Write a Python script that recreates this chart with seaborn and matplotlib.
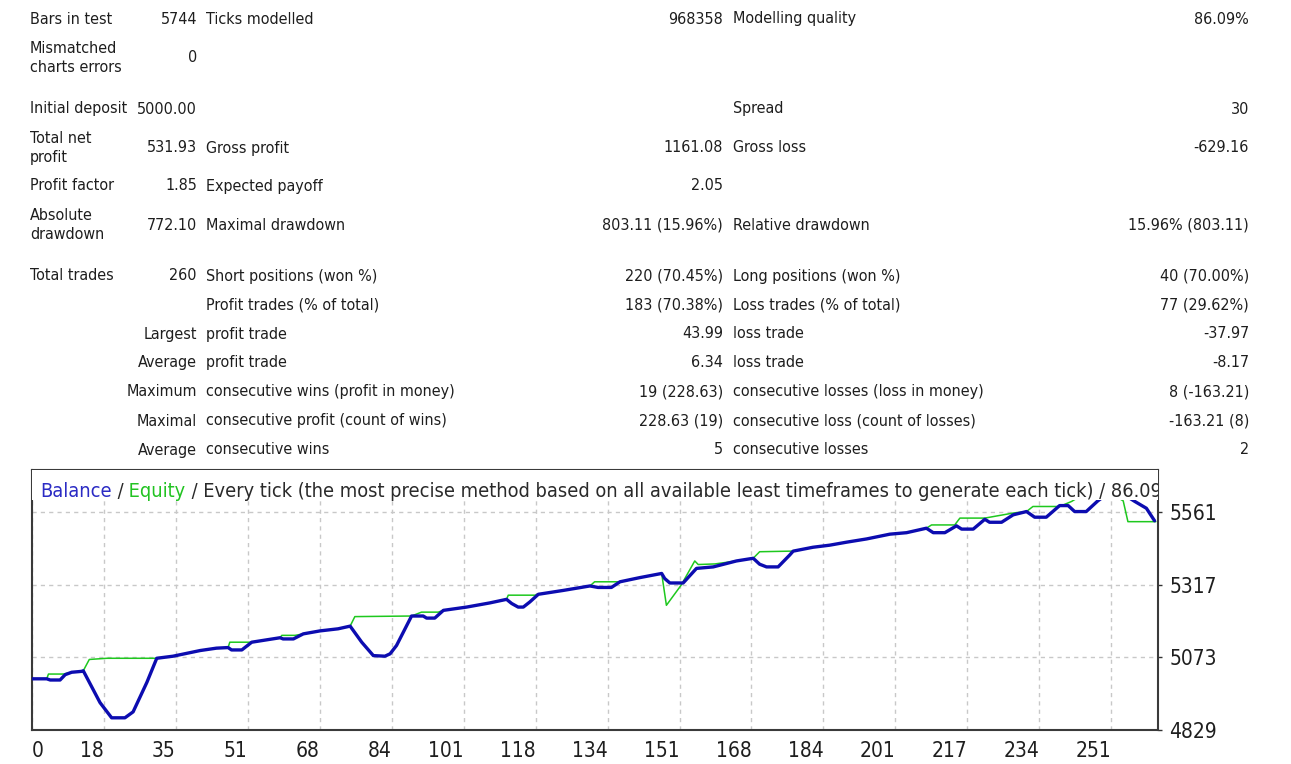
import numpy as np
import matplotlib
matplotlib.use("Agg")
import matplotlib.pyplot as plt
import seaborn as sns
import pandas as pd
from matplotlib.patches import Rectangle

# report table (13 rows, 3 label/value column pairs)
left_labels = ["Bars in test", "Mismatched\ncharts errors", "Initial deposit", "Total net\nprofit",
               "Profit factor", "Absolute\ndrawdown", "Total trades", "", "Largest", "Average",
               "Maximum", "Maximal", "Average"]
left_values = ["5744", "0", "5000.00", "531.93", "1.85", "772.10", "260", "", "", "", "", "", ""]
mid_labels = ["Ticks modelled", "", "", "Gross profit", "Expected payoff", "Maximal drawdown",
              "Short positions (won %)", "Profit trades (% of total)", "profit trade", "profit trade",
              "consecutive wins (profit in money)", "consecutive profit (count of wins)", "consecutive wins"]
mid_values = ["968358", "", "", "1161.08", "2.05", "803.11 (15.96%)", "220 (70.45%)", "183 (70.38%)",
              "43.99", "6.34", "19 (228.63)", "228.63 (19)", "5"]
right_labels = ["Modelling quality", "", "Spread", "Gross loss", "", "Relative drawdown",
                "Long positions (won %)", "Loss trades (% of total)", "loss trade", "loss trade",
                "consecutive losses (loss in money)", "consecutive loss (count of losses)", "consecutive losses"]
right_values = ["86.09%", "", "30", "-629.16", "", "15.96% (803.11)", "40 (70.00%)", "77 (29.62%)",
                "-37.97", "-8.17", "8 (-163.21)", "-163.21 (8)", "2"]

# balance / equity curves (trade number, account value)
bal_x = [0, 3.5, 4.3, 6.6, 7.8, 9.3, 11.6, 12.0, 15.9, 18.6, 21.7, 23.6, 26.8, 29.1, 32.9, 39.2,
         43.0, 45.7, 46.5, 48.9, 51.2, 54.7, 57.8, 58.5, 60.9, 63.2, 67.1, 71.3, 74.1, 76.8, 79.5,
         82.2, 83.4, 84.9, 88.4, 91.1, 91.9, 93.8, 95.8, 101.2, 106.6, 110.5, 111.7, 113.2, 114.4,
         115.9, 117.9, 123.7, 129.9, 131.8, 134.9, 136.9, 141.5, 146.6, 147.3, 148.5, 151.6, 154.7,
         158.6, 164.0, 167.9, 169.4, 171.0, 173.7, 176.4, 177.2, 181.8, 185.7, 189.6, 194.3, 199.7,
         203.6, 208.2, 209.8, 212.5, 215.2, 216.4, 219.1, 221.8, 222.9, 225.7, 228.4, 231.5, 233.4,
         236.1, 239.2, 241.2, 242.7, 245.4, 248.1, 252.0, 256.7, 259.4, 261.3]
bal_y = [5001, 5001, 4997, 4997, 5015, 5023, 5026, 5028, 4921, 4870, 4870, 4890, 4989, 5070, 5077, 5096,
         5104, 5106, 5098, 5098, 5124, 5132, 5139, 5135, 5135, 5152, 5162, 5169, 5178, 5124, 5079,
         5077, 5085, 5113, 5212, 5212, 5205, 5205, 5231, 5242, 5256, 5268, 5254, 5242, 5242,
         5259, 5285, 5298, 5313, 5308, 5308, 5327, 5341, 5355, 5338, 5323, 5323, 5372,
         5377, 5397, 5406, 5386, 5377, 5377, 5417, 5430, 5443, 5450, 5460, 5471, 5487,
         5492, 5507, 5492, 5492, 5515, 5504, 5504, 5537, 5527, 5527, 5552, 5563, 5544,
         5544, 5583, 5583, 5563, 5563, 5599, 5640, 5597, 5574, 5532]
eq_x = [0, 3.5, 3.9, 7.4, 9.3, 11.6, 12.0, 13.4, 17.5, 29.1, 32.9, 39.2, 43.0, 45.7, 46.1, 50.4,
        51.2, 54.7, 57.8, 58.2, 61.3, 63.2, 67.1, 71.3, 74.1, 75.2, 88.4, 90.7, 94.6, 95.8, 101.2,
        106.6, 110.5, 110.9, 117.1, 117.9, 123.7, 129.9, 131.0, 136.9, 141.5, 146.6, 147.7, 151.1,
        154.3, 155.1, 159.0, 164.0, 167.9, 169.4, 176.8, 177.2, 181.8, 185.7, 189.6, 194.3, 199.7,
        203.6, 208.2, 209.4, 214.8, 216.0, 221.8, 228.4, 231.5, 233.0, 239.2, 242.0, 248.0, 254.0,
        255.1, 261.6]
eq_y = [5001, 5001, 5017, 5017, 5023, 5026, 5028, 5066, 5070, 5070, 5077, 5096, 5104, 5106, 5124, 5124,
        5124, 5132, 5139, 5147, 5147, 5152, 5162, 5169, 5178, 5210, 5212, 5225, 5225, 5231, 5242,
        5256, 5268, 5282, 5282, 5285, 5298, 5313, 5327, 5327, 5341, 5355, 5248, 5315,
        5397, 5385, 5387, 5397, 5406, 5428, 5430, 5430, 5443, 5450, 5460, 5471, 5487,
        5492, 5507, 5518, 5518, 5541, 5541, 5558, 5563, 5580, 5580, 5597, 5650, 5599,
        5529, 5529]

x_tick_labels = ["0", "18", "35", "51", "68", "84", "101", "118", "134", "151", "168", "184",
                 "201", "217", "234", "251"]
y_ticks = [4829, 5073, 5317, 5561]

title_parts = [("Balance", "#2b2bc4"), (" /", "#2a2a2a"), (" Equity", "#22c322"),
               (" / Every tick (the most precise method based on all available least timeframes "
                "to generate each tick) / 86.09%", "#2a2a2a")]

sns.set_style("white")
plt.rcParams["font.family"] = ["DejaVu Sans"]
plt.rcParams["font.stretch"] = "condensed"

W, H = 1291, 764
fig = plt.figure(figsize=(W / 100, H / 100), dpi=100)
fig.patch.set_facecolor("white")


def fx(px):
    return px / W


def fy(py):
    return 1 - py / H


def cell(px, py, s, ha):
    # py is the visual centre of the row; draw each line on its own baseline
    lines = s.split("\n")
    n = len(lines)
    for k, line in enumerate(lines):
        base = py + 5.5 + (k - (n - 1) / 2) * 19
        fig.text(fx(px), fy(base), line, ha=ha, va="baseline", fontsize=11.5, color="#1e1e1e")


# table
row_y = [18, 57, 108, 147, 185, 224, 275, 304, 333, 362, 391, 420, 449]
for i, y in enumerate(row_y):
    cell(197 if i >= 8 else 30, y, left_labels[i], "right" if i >= 8 else "left")
    cell(197, y, left_values[i], "right")
    cell(206, y, mid_labels[i], "left")
    cell(723, y, mid_values[i], "right")
    cell(733, y, right_labels[i], "left")
    cell(1249, y, right_values[i], "right")

# chart
left, right, top, bottom = 31.7, 1158, 470, 730
ax = fig.add_axes([fx(left), fy(bottom), (right - left) / W, (bottom - top) / H])

df_eq = pd.DataFrame({"trade": eq_x, "value": eq_y})
df_bal = pd.DataFrame({"trade": bal_x, "value": bal_y})
sns.lineplot(data=df_eq, x="trade", y="value", ax=ax, color="#1ec81e", lw=1.1,
             sort=False, estimator=None, zorder=2)
sns.lineplot(data=df_bal, x="trade", y="value", ax=ax, color="#0c0cb0", lw=2.4,
             sort=False, estimator=None, zorder=3)

ax.set_xlim(0, 262.1)
ax.set_ylim(4829, 4829 + 260 * 3.36)
xt = np.arange(len(x_tick_labels)) * 16.75
ax.set_xticks(xt)
ax.set_xticklabels(x_tick_labels)
for i, lab in enumerate(ax.get_xticklabels()):
    lab.set_ha("left" if i == 0 else "right")
ax.set_yticks(y_ticks)
ax.yaxis.tick_right()
ax.tick_params(axis="both", length=3, width=1, colors="#333333", labelcolor="#1e1e1e",
               labelsize=15, pad=5)
ax.set_xlabel("")
ax.set_ylabel("")

ax.grid(True, color="#c8c8c8", linestyle=(0, (3, 3)), lw=1)
ax.set_axisbelow(True)
for s in ax.spines.values():
    s.set_color("#3a3a3a")
    s.set_linewidth(1.5)

# white strip behind the caption hides the curve tops
y0 = (bottom - 500) / (bottom - top)
ax.add_patch(Rectangle((0, y0), 1, 1 - y0, transform=ax.transAxes, facecolor="white",
                       edgecolor="none", zorder=4))

prev = None
for s, c in title_parts:
    if prev is None:
        prev = ax.text((40 - left) / (right - left), (bottom - 497) / (bottom - top), s,
                       transform=ax.transAxes, color=c, fontsize=14.35, va="baseline",
                       clip_on=True, zorder=5)
    else:
        prev = ax.annotate(s, xy=(1, 0), xycoords=prev, color=c, fontsize=14.35, va="bottom",
                           ha="left", clip_on=True, zorder=5)

fig.savefig("out.png", dpi=100, facecolor="white")
